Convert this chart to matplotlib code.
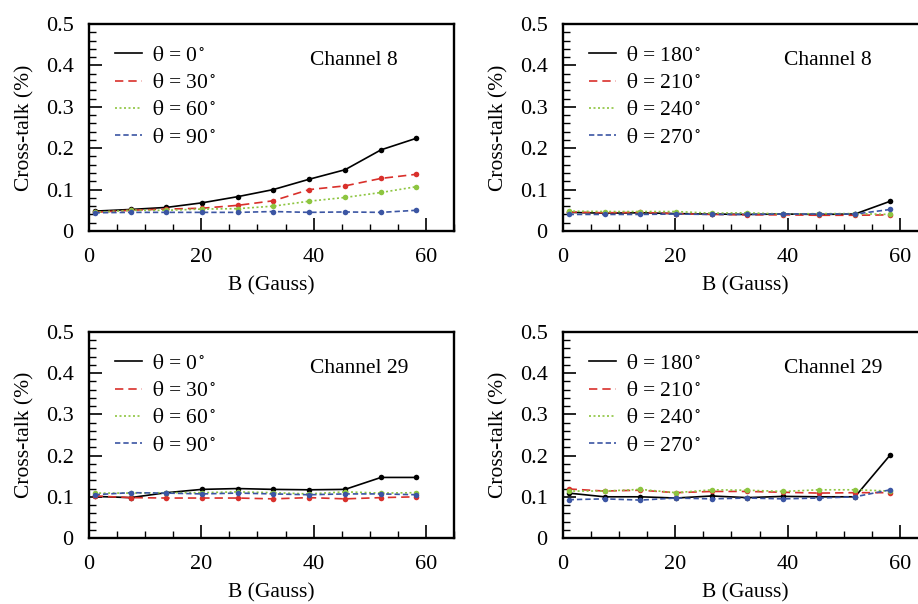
import matplotlib
matplotlib.use("Agg")
import matplotlib.pyplot as plt
from matplotlib.ticker import MultipleLocator

plt.rcParams['font.family'] = ['Liberation Serif', 'DejaVu Serif']
plt.rcParams['mathtext.fontset'] = 'stix'

B = [1.0, 7.4, 13.8, 20.1, 26.5, 32.8, 39.2, 45.6, 52.0, 58.3]

# Channel 8, theta 0-90
ch8_0 = [0.048, 0.052, 0.057, 0.068, 0.083, 0.100, 0.125, 0.148, 0.196, 0.224]
ch8_30 = [0.045, 0.050, 0.053, 0.055, 0.062, 0.073, 0.100, 0.109, 0.127, 0.137]
ch8_60 = [0.045, 0.050, 0.050, 0.053, 0.054, 0.060, 0.072, 0.081, 0.093, 0.107]
ch8_90 = [0.044, 0.045, 0.045, 0.045, 0.045, 0.047, 0.045, 0.046, 0.045, 0.050]
# Channel 8, theta 180-270
ch8_180 = [0.045, 0.043, 0.044, 0.042, 0.041, 0.040, 0.041, 0.040, 0.041, 0.072]
ch8_210 = [0.046, 0.044, 0.045, 0.042, 0.040, 0.039, 0.039, 0.038, 0.038, 0.039]
ch8_240 = [0.048, 0.047, 0.047, 0.047, 0.043, 0.044, 0.041, 0.042, 0.042, 0.040]
ch8_270 = [0.040, 0.040, 0.040, 0.041, 0.040, 0.040, 0.041, 0.041, 0.041, 0.052]
# Channel 29, theta 0-90
ch29_0 = [0.101, 0.098, 0.110, 0.118, 0.120, 0.118, 0.117, 0.118, 0.147, 0.147]
ch29_30 = [0.102, 0.098, 0.097, 0.097, 0.097, 0.095, 0.098, 0.095, 0.098, 0.100]
ch29_60 = [0.109, 0.109, 0.110, 0.110, 0.112, 0.110, 0.107, 0.112, 0.109, 0.110]
ch29_90 = [0.105, 0.110, 0.109, 0.107, 0.109, 0.107, 0.105, 0.107, 0.107, 0.105]
# Channel 29, theta 180-270
ch29_180 = [0.109, 0.100, 0.100, 0.097, 0.102, 0.098, 0.101, 0.100, 0.100, 0.202]
ch29_210 = [0.119, 0.114, 0.116, 0.110, 0.113, 0.113, 0.111, 0.109, 0.110, 0.110]
ch29_240 = [0.114, 0.114, 0.118, 0.110, 0.117, 0.116, 0.113, 0.117, 0.117, 0.114]
ch29_270 = [0.093, 0.095, 0.092, 0.097, 0.095, 0.097, 0.095, 0.097, 0.100, 0.117]

angles_a = [0, 30, 60, 90]
angles_b = [180, 210, 240, 270]
ytick_vals = [0, 0.1, 0.2, 0.3, 0.4, 0.5]
ytick_labels = ['0', '0.1', '0.2', '0.3', '0.4', '0.5']

colors = ['black', '#d9302b', '#8dc540', '#3b55a3']
styles = ['-', (0, (5, 3)), (0, (1.2, 1.5)), (0, (3.2, 1.8))]

fig = plt.figure(figsize=(9.18, 6.04), dpi=100)
W, H = 918, 604

def add_ax(x0, y_top, y_bot):
    return fig.add_axes([x0 / W, 1 - y_bot / H, 365 / W, (y_bot - y_top) / H])

panels = [
    (add_ax(89, 24, 231), [ch8_0, ch8_30, ch8_60, ch8_90], angles_a, 'Channel 8'),
    (add_ax(563, 24, 231), [ch8_180, ch8_210, ch8_240, ch8_270], angles_b, 'Channel 8'),
    (add_ax(89, 332, 538), [ch29_0, ch29_30, ch29_60, ch29_90], angles_a, 'Channel 29'),
    (add_ax(563, 332, 538), [ch29_180, ch29_210, ch29_240, ch29_270], angles_b, 'Channel 29'),
]

for ax, series, angs, chan in panels:
    for s, a, c, ls in zip(series, angs, colors, styles):
        ax.plot(B, s, color=c, linestyle=ls, linewidth=1.2, marker='o',
                markersize=4, markeredgewidth=0, label=r'$\mathrm{\theta}$ = %d$^\circ$' % a)
    ax.set_xlim(0, 65)
    ax.set_ylim(0, 0.5)
    ax.xaxis.set_major_locator(MultipleLocator(20))
    ax.xaxis.set_minor_locator(MultipleLocator(5))
    ax.yaxis.set_minor_locator(MultipleLocator(0.02))
    ax.set_yticks(ytick_vals)
    ax.set_yticklabels(ytick_labels)
    ax.tick_params(which='major', direction='in', length=9.5, width=1.2, labelsize=16, pad=11)
    ax.tick_params(axis='x', which='major', pad=12)
    ax.tick_params(which='minor', direction='in', length=5, width=1.0)
    ax.tick_params(top=False, right=False, which='both')
    for sp in ax.spines.values():
        sp.set_linewidth(1.7)
    ax.set_xlabel('B (Gauss)', fontsize=15.5, labelpad=7)
    ax.set_ylabel('Cross-talk (%)', fontsize=15.5, labelpad=8)
    ax.text(0.605, 0.825, chan, transform=ax.transAxes, fontsize=15.5, va='center')
    leg = ax.legend(loc='upper left', frameon=False, fontsize=15.5, handlelength=1.25,
                    handletextpad=0.45, labelspacing=0.34, borderaxespad=0.0,
                    bbox_to_anchor=(0.048, 0.937))
    for h in leg.legend_handles:
        h.set_marker('')

fig.savefig('out.png', dpi=100)
